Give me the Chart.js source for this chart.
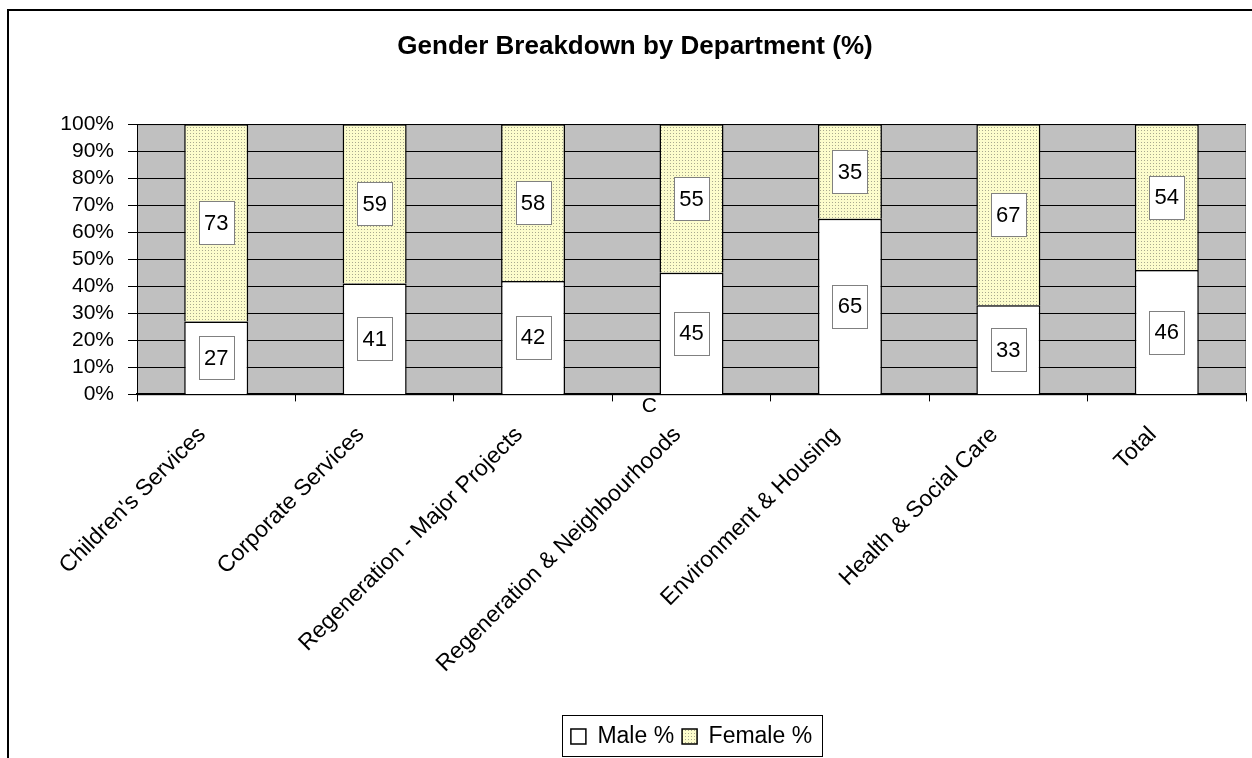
<!DOCTYPE html>
<html>
<head>
<meta charset="utf-8">
<script src="https://cdn.jsdelivr.net/npm/chart.js@4.4.1/dist/chart.umd.min.js"></script>
<style>
  html, body { margin: 0; padding: 0; background: #fff; }
  #wrap { width: 1252px; height: 758px; }
</style>
</head>
<body>
<div id="wrap"><canvas id="genderChart" width="1252" height="758"></canvas></div>
<script>
const departments = [
    "Children's Services",
    'Corporate Services',
    'Regeneration - Major Projects',
    'Regeneration & Neighbourhoods',
    'Environment & Housing',
    'Health & Social Care',
    'Total'
];
const malePct = [27, 41, 42, 45, 65, 33, 46];
const femalePct = [73, 59, 58, 55, 35, 67, 54];
const yTicks = [0, 10, 20, 30, 40, 50, 60, 70, 80, 90, 100];

const FONT = "'Liberation Sans', Arial, sans-serif";

// dotted light-yellow fill used by Excel for the female series
function makeDots() {
    const c = document.createElement('canvas');
    c.width = 3; c.height = 3;
    const g = c.getContext('2d');
    g.fillStyle = '#fcfccc';
    g.fillRect(0, 0, 3, 3);
    g.fillStyle = '#a9a98f';
    g.fillRect(1, 1, 1, 1);
    return g.createPattern(c, 'repeat');
}
const dotPattern = makeDots();

const plotBg = {
    id: 'plotBg',
    beforeDraw(chart) {
        const { ctx, chartArea: a } = chart;
        ctx.save();
        ctx.fillStyle = '#c0c0c0';
        ctx.fillRect(a.left, a.top, a.right - a.left, a.bottom - a.top);
        ctx.strokeStyle = '#808080';
        ctx.lineWidth = 1;
        ctx.strokeRect(a.left + 0.5, a.top + 0.5, a.right - a.left - 1, a.bottom - a.top);
        ctx.restore();
    }
};

const boxLabels = {
    id: 'boxLabels',
    afterDatasetsDraw(chart) {
        const { ctx } = chart;
        ctx.save();
        ctx.font = '22px ' + FONT;
        ctx.textAlign = 'center';
        ctx.textBaseline = 'middle';
        chart.data.datasets.forEach((ds, i) => {
            chart.getDatasetMeta(i).data.forEach((bar, j) => {
                const cx = bar.x;
                const cy = (bar.y + bar.base) / 2;
                const w = 35, h = 43;
                ctx.fillStyle = '#fff';
                ctx.fillRect(Math.round(cx - w / 2), Math.round(cy - h / 2), w, h);
                ctx.strokeStyle = '#808080';
                ctx.lineWidth = 1;
                ctx.strokeRect(Math.round(cx - w / 2) + 0.5, Math.round(cy - h / 2) + 0.5, w, h);
                ctx.fillStyle = '#000';
                ctx.fillText(String(ds.data[j]), cx, cy + 1);
            });
        });
        ctx.restore();
    }
};

const frame = {
    id: 'frame',
    afterDraw(chart) {
        const { ctx, chartArea: a, legend } = chart;
        ctx.save();
        // outer chart border
        ctx.strokeStyle = '#000';
        ctx.lineWidth = 2;
        ctx.strokeRect(8, 10, 1300, 900);
        // stray "C" under the axis
        ctx.font = '21px ' + FONT;
        ctx.fillStyle = '#000';
        ctx.textAlign = 'center';
        ctx.textBaseline = 'top';
        ctx.fillText('C', a.left + (a.right - a.left) * 0.462, a.bottom + 1);
        // legend box
        const hb = legend.legendHitBoxes;
        if (hb && hb.length) {
            const l = Math.min(...hb.map(b => b.left)) - 9;
            const r = Math.max(...hb.map(b => b.left + b.width)) + 10;
            ctx.lineWidth = 1;
            ctx.strokeRect(Math.round(l) + 0.5, Math.round(legend.bottom) - 42.5, Math.round(r - l), 41);
        }
        ctx.restore();
    }
};

new Chart(document.getElementById('genderChart').getContext('2d'), {
    type: 'bar',
    data: {
        labels: departments,
        datasets: [{
            label: 'Male %',
            data: malePct,
            backgroundColor: '#ffffff',
            borderColor: '#000000',
            borderWidth: 1.5,
        }, {
            label: 'Female %',
            data: femalePct,
            backgroundColor: dotPattern,
            borderColor: '#000000',
            borderWidth: 1.5,
        }]
    },
    options: {
        responsive: false,
        animation: false,
        categoryPercentage: 1,
        barPercentage: 0.404,
        layout: { padding: { left: 24, right: 6, top: 0, bottom: 0 } },
        plugins: {
            title: {
                display: true,
                text: 'Gender Breakdown by Department (%)',
                color: '#000',
                font: { family: FONT, size: 26, weight: 'bold' },
                padding: { top: 31, bottom: 62 }
            },
            legend: {
                position: 'bottom',
                fullSize: false,
                labels: {
                    color: '#000',
                    font: { family: FONT, size: 23 },
                    boxWidth: 15,
                    boxHeight: 15,
                    padding: 8
                }
            },
            tooltip: { enabled: false }
        },
        scales: {
            x: {
                stacked: true,
                grid: { display: true, drawOnChartArea: false, offset: true, color: '#000', tickLength: 7 },
                border: { display: true, color: '#000', width: 2 },
                ticks: {
                    color: '#000',
                    font: { family: FONT, size: 23 },
                    minRotation: 45,
                    maxRotation: 45,
                    autoSkip: false,
                    padding: 20,
                    labelOffset: -14
                },
                afterFit(scale) { scale.height = 322.6; }
            },
            y: {
                stacked: true,
                min: 0,
                max: 100,
                afterBuildTicks(scale) { scale.ticks = yTicks.map(v => ({ value: v })); },
                grid: { color: '#000', lineWidth: 1, tickLength: 9 },
                border: { display: true, color: '#000', width: 1 },
                ticks: {
                    color: '#000',
                    font: { family: FONT, size: 21 },
                    autoSkip: false,
                    padding: 14,
                    callback: v => v + '%'
                },
                afterFit(scale) { scale.width = 113; }
            }
        }
    },
    plugins: [plotBg, boxLabels, frame]
});
</script>
</body>
</html>
